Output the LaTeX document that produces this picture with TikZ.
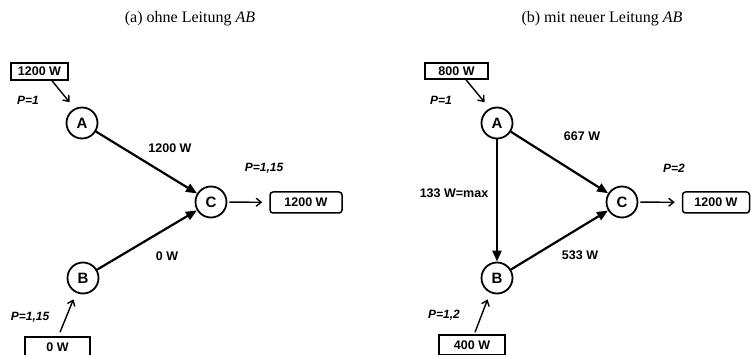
\documentclass[tikz,border=0pt]{standalone}
\usepackage{fontspec}
\setmainfont{Liberation Serif}
\newfontfamily\hv{Liberation Sans}
\usetikzlibrary{arrows.meta}
\begin{document}
\begin{tikzpicture}[x=1pt,y=-1pt,
 station/.style={circle,draw,line width=1.8pt,minimum size=31pt,inner sep=0pt,font=\hv\bfseries\fontsize{15}{15}\selectfont},
 srcbox/.style={draw,line width=1.5pt,inner sep=0pt,font=\hv\bfseries\fontsize{12.5}{12.5}\selectfont},
 sinkbox/.style={draw,rounded corners=3pt,line width=1.5pt,inner sep=0pt,font=\hv\bfseries\fontsize{12.5}{12.5}\selectfont},
 lbl/.style={font=\hv\bfseries\fontsize{12.5}{12.5}\selectfont,inner sep=0pt},
 plbl/.style={font=\hv\bfseries\itshape\fontsize{12}{12}\selectfont,inner sep=0pt},
 flow/.style={line width=2.2pt,-{Triangle[length=11pt,width=9pt]}},
 feed/.style={line width=1.4pt,-{Straight Barb[length=5pt,width=8pt]}},
 ttl/.style={font=\fontsize{16}{16}\selectfont,inner sep=0pt}]
\useasboundingbox (0,0) rectangle (751,355);
% ---------- (a)
\node[ttl] (ta) at (190,19) {(a) ohne Leitung \textit{AB}};
\node[srcbox,minimum width=57pt,minimum height=17pt] (sa) at (39.5,71.5) {1200 W};
\node[plbl] (pa) at (28,100) {P=1};
\node[station] (A1) at (82,123) {A};
\node[station] (B1) at (83,278) {B};
\node[station] (C1) at (211,202) {C};
\node[sinkbox,minimum width=72pt,minimum height=21pt] (k1) at (306,202.5) {1200 W};
\node[srcbox,minimum width=65pt,minimum height=20pt] (sb) at (57.5,347) {0 W};
\node[lbl] (l1) at (170,148) {1200 W};
\node[plbl] (pc1) at (264,168) {P=1,15};
\node[lbl] (l2) at (167,256) {0 W};
\node[plbl] (pb1) at (30,317) {P=1,15};
\draw[feed,shorten >=7.9pt] ([xshift=12.5pt]sa.south) -- (A1.117);
\draw[feed,shorten >=7pt] ([xshift=2.5pt,yshift=4pt]sb.north) -- (B1.245);
\draw[flow] (A1) -- (C1);
\draw[flow] (B1) -- (C1);
\draw[feed,shorten <=2pt,shorten >=7pt] (C1) -- (k1);
% ---------- (b)
\node[ttl] (tb) at (602,19) {(b) mit neuer Leitung \textit{AB}};
\node[srcbox,minimum width=63pt,minimum height=16pt] (sa2) at (456.5,71) {800 W};
\node[plbl] (pa2) at (441,100) {P=1};
\node[station] (A2) at (497,123) {A};
\node[station] (B2) at (497,278) {B};
\node[station] (C2) at (622,202) {C};
\node[sinkbox,minimum width=67pt,minimum height=21pt] (k2) at (716,202.5) {1200 W};
\node[srcbox,minimum width=66pt,minimum height=20pt] (sb2) at (472,345) {400 W};
\node[lbl] (m1) at (582,136) {667 W};
\node[plbl] (pc2) at (674,168) {P=2};
\node[lbl] (m2) at (454,193) {133 W=max};
\node[lbl] (m3) at (580,255) {533 W};
\node[plbl] (pb2) at (444,315) {P=1,2};
\draw[feed,shorten >=7.9pt] ([xshift=9.5pt]sa2.south) -- (A2.117);
\draw[feed,shorten >=7pt] ([xshift=3pt,yshift=2pt]sb2.north) -- (B2.245);
\draw[flow] (A2) -- (C2);
\draw[flow] (A2) -- (B2);
\draw[flow] (B2) -- (C2);
\draw[feed,shorten <=2pt,shorten >=7pt] (C2) -- (k2);
\end{tikzpicture}
\end{document}
